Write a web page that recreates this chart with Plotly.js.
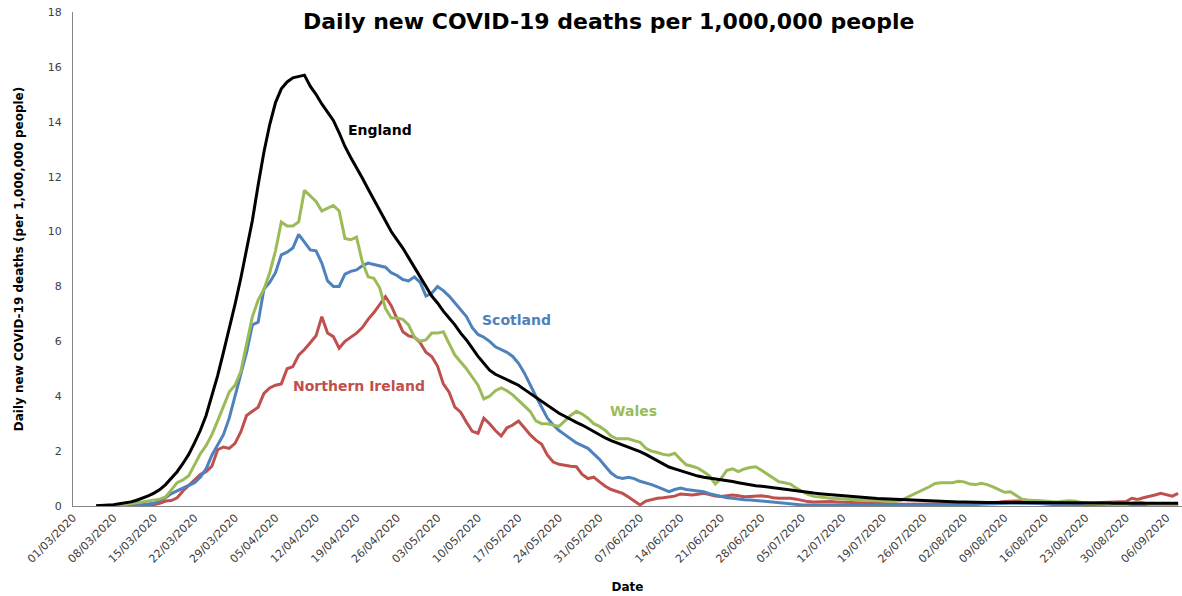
<!DOCTYPE html>
<html>
<head>
<meta charset="utf-8">
<script src="https://cdn.plot.ly/plotly-3.0.1.min.js"></script>
<style>
  html, body { margin: 0; padding: 0; background: #ffffff; }
  #chart { width: 1182px; height: 596px; }
</style>
</head>
<body>
<div id="chart"></div>
<script>
// Daily values (7-day rolling average), one value per day starting 05/03/2020
const startDate = '2020-03-05';
const seriesNames = ['England', 'Scotland', 'Wales', 'Northern Ireland'];

const england = [
  0.01,0.02,0.03,0.05,0.08,0.11,0.15,0.21,0.28,0.37,
  0.47,0.6,0.78,1.0,1.25,1.55,1.88,2.3,2.75,3.3,
  4.0,4.75,5.6,6.45,7.35,8.3,9.3,10.4,11.7,12.9,
  13.9,14.7,15.2,15.45,15.6,15.65,15.7,15.3,15.0,14.65,
  14.35,14.05,13.6,13.1,12.7,12.35,11.95,11.55,11.15,10.75,
  10.35,10.0,9.7,9.4,9.05,8.7,8.35,8.0,7.65,7.4,
  7.1,6.85,6.6,6.3,6.05,5.75,5.45,5.2,4.95,4.8,
  4.7,4.6,4.5,4.4,4.25,4.1,3.95,3.8,3.65,3.5,
  3.38,3.27,3.15,3.05,2.95,2.83,2.7,2.58,2.48,2.38,
  2.3,2.22,2.15,2.08,1.98,1.88,1.77,1.65,1.52,1.42,
  1.35,1.28,1.22,1.15,1.09,1.05,1.02,1.0,0.97,0.93,
  0.89,0.85,0.81,0.77,0.74,0.72,0.69,0.66,0.63,0.6,
  0.58,0.55,0.53,0.5,0.47,0.45,0.43,0.41,0.39,0.37,
  0.35,0.33,0.31,0.29,0.28,0.27,0.26,0.25,0.25,0.24,
  0.22,0.21,0.2,0.19,0.18,0.17,0.17,0.16,0.16,0.15,
  0.15,0.14,0.14,0.14,0.13,0.13,0.13,0.13,0.13,0.13,
  0.13,0.12,0.12,0.12,0.12,0.12,0.12,0.12,0.11,0.11,
  0.11,0.11,0.11,0.11,0.11,0.11,0.1,0.1,0.1,0.1,
  0.1,0.1,0.1,0.1,0.1,0.1,0.1,0.1
];

const scotland = [
  0,0,0,0,0,0.01,0.02,0.03,0.05,0.07,
  0.1,0.2,0.3,0.45,0.55,0.65,0.75,0.85,1.05,1.35,
  1.85,2.2,2.6,3.2,4.0,4.7,5.6,6.6,6.7,7.9,
  8.15,8.5,9.15,9.25,9.4,9.9,9.6,9.33,9.3,8.85,
  8.2,8.0,8.0,8.45,8.55,8.6,8.75,8.85,8.8,8.75,
  8.7,8.5,8.4,8.25,8.2,8.35,8.15,7.65,7.75,8.0,
  7.85,7.65,7.4,7.15,6.9,6.5,6.25,6.15,6.0,5.8,
  5.7,5.6,5.45,5.2,4.85,4.4,4.0,3.6,3.2,2.95,
  2.75,2.6,2.45,2.3,2.2,2.1,1.9,1.7,1.45,1.2,
  1.05,1.0,1.05,1.0,0.9,0.85,0.78,0.7,0.6,0.52,
  0.6,0.65,0.6,0.58,0.55,0.52,0.45,0.4,0.35,0.3,
  0.28,0.25,0.23,0.22,0.2,0.17,0.15,0.13,0.1,0.08,
  0.06,0.05,0.04,0.04,0.04,0.03,0.03,0.03,0.03,0.03,
  0.03,0.03,0.03,0.03,0.03,0.02,0.02,0.02,0.02,0.02,
  0.02,0.02,0.02,0.02,0.02,0.02,0.02,0.02,0.03,0.03,
  0.04,0.05,0.06,0.07,0.08,0.09,0.1,0.1,0.1,0.1,
  0.1,0.1,0.1,0.09,0.07,0.05,0.04,0.03,0.03,0.03,
  0.03,0.03,0.03,0.03,0.03,0.03,0.03,0.03,0.03,0.03,
  0.03,0.03,0.03,0.03,0.03,0.03,0.03,0.03
];

const wales = [
  0,0,0,0,0.02,0.05,0.08,0.12,0.15,0.17,
  0.2,0.25,0.33,0.6,0.85,0.95,1.1,1.5,1.9,2.2,
  2.6,3.1,3.6,4.15,4.4,4.9,5.9,6.9,7.5,7.9,
  8.5,9.3,10.35,10.2,10.2,10.35,11.5,11.3,11.1,10.75,
  10.85,10.95,10.75,9.75,9.7,9.8,8.9,8.35,8.3,7.95,
  7.2,6.85,6.85,6.8,6.6,6.15,6.0,6.05,6.3,6.3,
  6.35,5.9,5.5,5.25,5.0,4.7,4.4,3.9,4.0,4.2,
  4.3,4.2,4.05,3.85,3.65,3.45,3.1,3.0,3.0,2.95,
  2.9,3.1,3.3,3.45,3.35,3.2,3.0,2.9,2.75,2.55,
  2.45,2.45,2.45,2.38,2.32,2.1,2.0,1.95,1.88,1.85,
  1.92,1.7,1.5,1.45,1.38,1.25,1.1,0.8,1.0,1.3,
  1.35,1.25,1.35,1.4,1.43,1.3,1.15,1.0,0.88,0.85,
  0.8,0.65,0.52,0.42,0.35,0.32,0.3,0.28,0.27,0.25,
  0.24,0.23,0.22,0.22,0.2,0.19,0.18,0.17,0.16,0.2,
  0.3,0.4,0.5,0.58,0.7,0.82,0.85,0.85,0.85,0.9,
  0.88,0.8,0.78,0.83,0.78,0.7,0.6,0.5,0.52,0.4,
  0.25,0.22,0.2,0.19,0.18,0.16,0.15,0.17,0.19,0.18,
  0.14,0.1,0.09,0.08,0.06,0.05,0.04,0.05,0.05,0.1,
  0.15,0.12,0.05,0.04,0.03,0.03,0.03,0.03
];

const northernIreland = [
  0,0,0,0,0,0,0,0.01,0.02,0.03,
  0.05,0.1,0.18,0.2,0.3,0.55,0.75,0.95,1.15,1.25,
  1.45,2.05,2.15,2.1,2.28,2.7,3.3,3.45,3.6,4.1,
  4.3,4.4,4.45,5.0,5.08,5.5,5.7,5.95,6.2,6.9,
  6.3,6.17,5.75,6.0,6.15,6.3,6.5,6.8,7.05,7.35,
  7.63,7.3,6.8,6.35,6.2,6.15,5.95,5.6,5.45,5.1,
  4.45,4.15,3.6,3.42,3.05,2.72,2.65,3.2,3.0,2.75,
  2.55,2.85,2.95,3.1,2.85,2.6,2.4,2.25,1.85,1.6,
  1.52,1.48,1.45,1.43,1.15,1.0,1.05,0.88,0.72,0.6,
  0.52,0.46,0.33,0.2,0.04,0.18,0.24,0.28,0.3,0.33,
  0.36,0.44,0.42,0.4,0.43,0.46,0.42,0.36,0.35,0.38,
  0.4,0.37,0.34,0.35,0.37,0.37,0.35,0.3,0.28,0.28,
  0.28,0.25,0.2,0.16,0.15,0.16,0.16,0.16,0.15,0.14,
  0.13,0.12,0.11,0.1,0.09,0.08,0.07,0.07,0.06,0.06,
  0.06,0.06,0.06,0.06,0.06,0.06,0.06,0.06,0.06,0.06,
  0.06,0.07,0.08,0.09,0.1,0.12,0.14,0.16,0.18,0.18,
  0.18,0.19,0.19,0.18,0.14,0.1,0.1,0.1,0.1,0.1,
  0.1,0.1,0.11,0.12,0.13,0.14,0.15,0.15,0.16,0.28,
  0.24,0.3,0.34,0.4,0.46,0.42,0.36,0.46
];

const colors = ['#000000', '#4F81BD', '#9BBB59', '#C0504D'];
const DAY = 86400000;

function line(y, name, color) {
  return {
    type: 'scatter', mode: 'lines', name: name,
    x0: startDate, dx: DAY, y: y,
    line: { color: color, width: 3 },
    hoverinfo: 'skip'
  };
}

// Draw order: NI, Scotland, Wales, England on top
const data = [
  line(northernIreland, seriesNames[3], colors[3]),
  line(scotland, seriesNames[1], colors[1]),
  line(wales, seriesNames[2], colors[2]),
  line(england, seriesNames[0], colors[0])
];

const FONT = 'DejaVu Sans, Verdana, sans-serif';

function label(text, x, y, color) {
  return {
    text: '<b>' + text + '</b>', x: x, y: y, xref: 'x', yref: 'y',
    showarrow: false, font: { family: FONT, size: 14, color: color },
    xanchor: 'center', yanchor: 'middle'
  };
}

const layout = {
  width: 1182, height: 596,
  margin: { l: 73, r: 0, t: 12, b: 90 },
  paper_bgcolor: '#ffffff', plot_bgcolor: '#ffffff',
  showlegend: false,
  font: { family: FONT, color: '#404040', size: 11 },
  title: {
    text: '<b>Daily new COVID-19 deaths per 1,000,000 people</b>',
    font: { family: FONT, size: 22, color: '#000000' },
    xref: 'container', x: 0.515, xanchor: 'center',
    yref: 'container', y: 0.965, yanchor: 'middle'
  },
  xaxis: {
    type: 'date',
    range: ['2020-03-01', '2020-09-08 16:00'],
    tickmode: 'linear', tick0: '2020-03-01', dtick: 7 * DAY,
    tickformat: '%d/%m/%Y', tickangle: -45,
    tickfont: { family: FONT, size: 11, color: '#404040' },
    showline: true, linecolor: '#868686', linewidth: 1,
    showgrid: false, zeroline: false, ticks: '',
    title: { text: '<b>Date</b>', font: { family: FONT, size: 12, color: '#000000' }, standoff: 18 }
  },
  yaxis: {
    range: [0, 18], tickmode: 'linear', tick0: 0, dtick: 2,
    tickfont: { family: FONT, size: 11, color: '#404040' },
    showline: true, linecolor: '#868686', linewidth: 1,
    showgrid: false, zeroline: false, ticks: '',
    ticklabelstandoff: 8,
    title: { text: '<b>Daily new COVID-19 deaths (per 1,000,000 people)</b>',
             font: { family: FONT, size: 12, color: '#000000' }, standoff: 21 }
  },
  annotations: [
    label('England', '2020-04-23', 13.7, '#000000'),
    label('Scotland', '2020-05-16 14:00', 6.78, '#4F81BD'),
    label('Northern Ireland', '2020-04-19 10:00', 4.37, '#C0504D'),
    label('Wales', '2020-06-05 19:00', 3.46, '#9BBB59')
  ]
};

Plotly.newPlot('chart', data, layout, { displayModeBar: false, staticPlot: true });
</script>
</body>
</html>
